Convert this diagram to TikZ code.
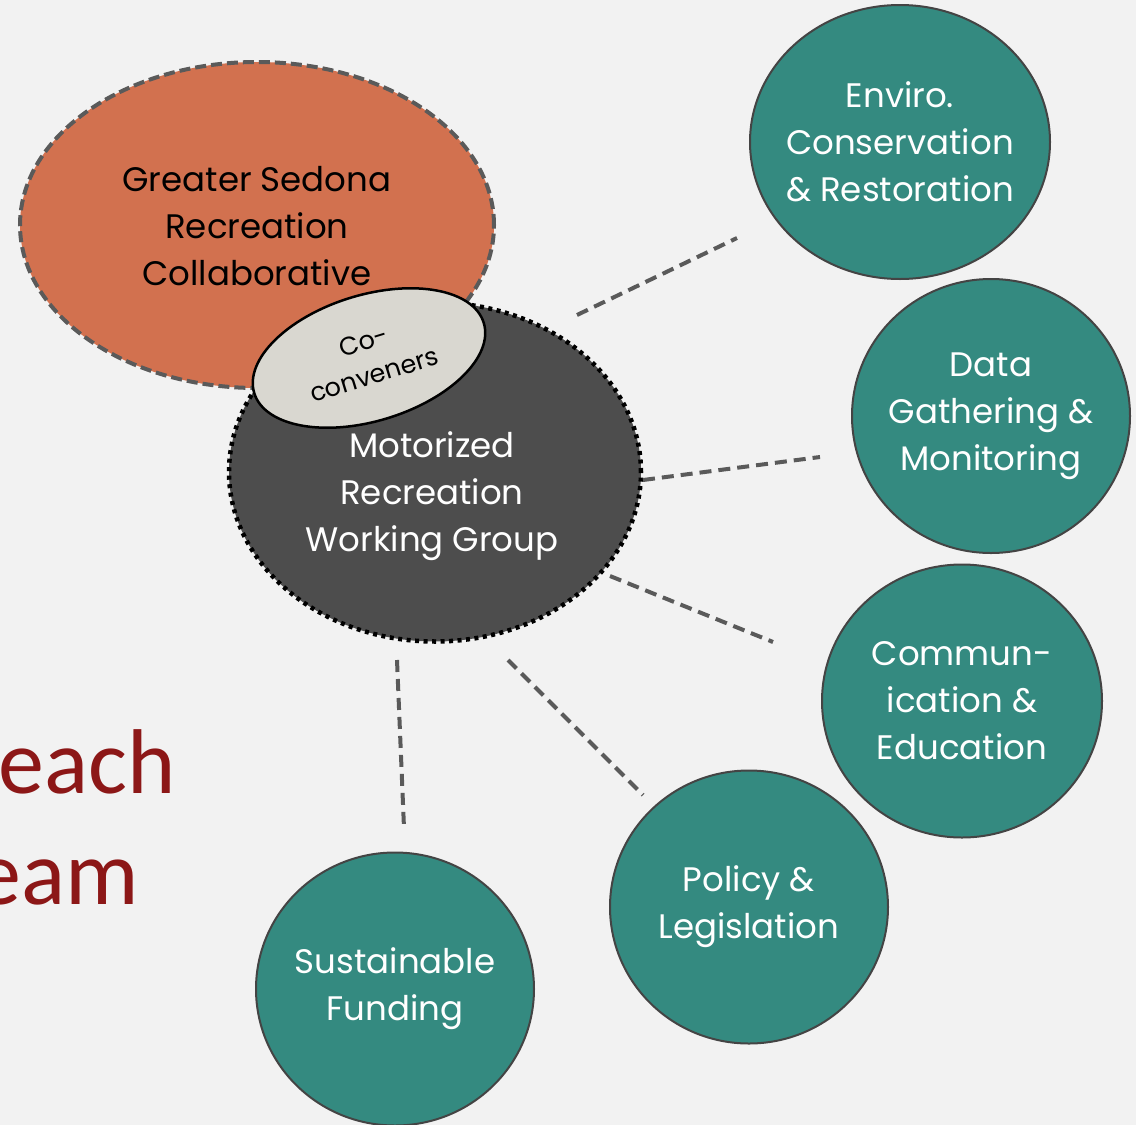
\documentclass[tikz,border=0pt]{standalone}
\usepackage{fontspec}
\setmainfont{Poppins}
\newfontfamily\calib{Carlito}
\usetikzlibrary{shapes.geometric}
\definecolor{bgc}{HTML}{F2F2F2}
\definecolor{tealc}{HTML}{348A80}
\definecolor{orngc}{HTML}{D2714F}
\definecolor{dgrayc}{HTML}{4D4D4D}
\definecolor{lgrayc}{HTML}{D9D7D0}
\definecolor{linec}{HTML}{5A5A5A}
\definecolor{dredc}{HTML}{8C1717}
\definecolor{edgec}{HTML}{444444}
\tikzset{
  teamc/.style={ellipse, fill=tealc, draw=edgec, line width=2pt, inner sep=0pt},
  teamtext/.style={text=white, align=center, inner sep=0pt, font=\fontsize{34}{47}\selectfont},
  conn/.style={draw=linec, line width=4pt, dash pattern=on 12pt off 7pt},
  bigtext/.style={align=center, font=\fontsize{34}{47}\selectfont},
}
\begin{document}
\begin{tikzpicture}[x=1pt,y=-1pt]
\useasboundingbox (0,0) rectangle (1136,1125);
\fill[bgc] (0,0) rectangle (1136,1125);
% left clipped words
\node[anchor=base east, text=dredc, font=\calib\fontsize{92}{92}\selectfont, inner sep=0pt] (w1) at (176,793) {each};
\node[anchor=base east, text=dredc, font=\calib\fontsize{92}{92}\selectfont, inner sep=0pt] (w2) at (139,904) {eam};
% Greater Sedona
\node[ellipse, fill=orngc, draw=linec, line width=4pt, dash pattern=on 11pt off 5pt,
  minimum width=474pt, minimum height=326pt, inner sep=0pt] (gsrc) at (257,225) {};
\node[bigtext, text=black] (gsrct) at (257,226) {Greater Sedona\\Recreation\\Collaborative};
% Motorized
\node[ellipse, fill=dgrayc, draw=black, line width=4.5pt, dash pattern=on 4pt off 4.5pt,
  minimum width=412pt, minimum height=339pt, inner sep=0pt] (mrwg) at (435,472) {};
\node[bigtext, text=white] (mrwgt) at (432,496) {Motorized\\Recreation\\Working Group};
% Co-conveners
\node[ellipse, fill=lgrayc, draw=black, line width=2.5pt, rotate=17,
  minimum width=240pt, minimum height=126pt, inner sep=0pt, align=center,
  font=\fontsize{25.5}{35}\selectfont] (cocon) at (369,358) {Co-\\conveners};
% teal circles
\node[teamc, minimum width=300pt, minimum height=274pt,
  label={[teamtext]center:{Enviro.\\Conservation\\\&~Restoration}}] (env) at (900,142) {};
\node[teamc, minimum width=278pt, minimum height=274pt,
  label={[teamtext]center:{Data\\Gathering \&\\Monitoring}}] (data) at (991,416) {};
\node[teamc, minimum width=280pt, minimum height=273pt,
  label={[teamtext]center:{Commun-\\ication \&\\Education}}] (comm) at (962,701) {};
\node[teamc, minimum width=278pt, minimum height=273pt,
  label={[teamtext]center:{Policy \&\\Legislation}}] (pol) at (749,907) {};
\node[teamc, minimum width=278pt, minimum height=273pt,
  label={[teamtext]center:{Sustainable\\Funding}}] (fund) at (395,989) {};
% connectors
\coordinate (a1) at (577,315); \coordinate (b1) at (737,238);
\coordinate (a2) at (643,480); \coordinate (b2) at (820,457);
\coordinate (a3) at (610,576); \coordinate (b3) at (773,642);
\coordinate (a4) at (508,660); \coordinate (b4) at (643,795);
\coordinate (a5) at (397,660); \coordinate (b5) at (404,828);
\draw[conn] (a1) -- (b1);
\draw[conn] (a2) -- (b2);
\draw[conn] (a3) -- (b3);
\draw[conn] (a4) -- (b4);
\draw[conn] (a5) -- (b5);
\end{tikzpicture}
\end{document}
